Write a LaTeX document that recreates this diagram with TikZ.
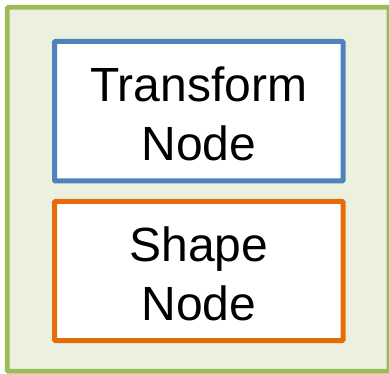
\documentclass[tikz,border=0pt]{standalone}
\usepackage{fontspec}
\setmainfont{Liberation Sans}
\definecolor{framegreen}{HTML}{9BBB59}
\definecolor{framefill}{HTML}{EBF1DE}
\definecolor{nodeblue}{HTML}{4F81BD}
\definecolor{nodeorange}{HTML}{E46C0A}
\tikzset{
  container/.style={draw=framegreen, fill=framefill, line width=4.7pt,
    rounded corners=1pt, inner sep=0pt,
    minimum width=381.7pt, minimum height=364pt},
  scenenode/.style={fill=white, line width=5pt, rounded corners=1pt,
    inner sep=0pt, minimum width=288.5pt, minimum height=139.5pt,
    align=center, font=\fontsize{48}{59}\selectfont},
  label shift/.style={yshift=-2.5pt},
}
\begin{document}
\begin{tikzpicture}[x=1pt,y=1pt]
  \useasboundingbox (0,0) rectangle (389,373);
  % enclosing group
  \node[container] (group) at (198.15,183.7) {};
  % child nodes
  \node[scenenode, draw=nodeblue] (transform) at (198.75,261.75) {};
  \node[scenenode, draw=nodeorange, minimum height=139pt] (shape) at (198.75,102) {};
  % their captions
  \node[scenenode, draw=none, fill=none, label shift] (transformtext) at (transform) {Transform\\Node};
  \node[scenenode, draw=none, fill=none, minimum height=139pt, label shift] (shapetext) at (shape) {Shape\\Node};
\end{tikzpicture}
\end{document}
